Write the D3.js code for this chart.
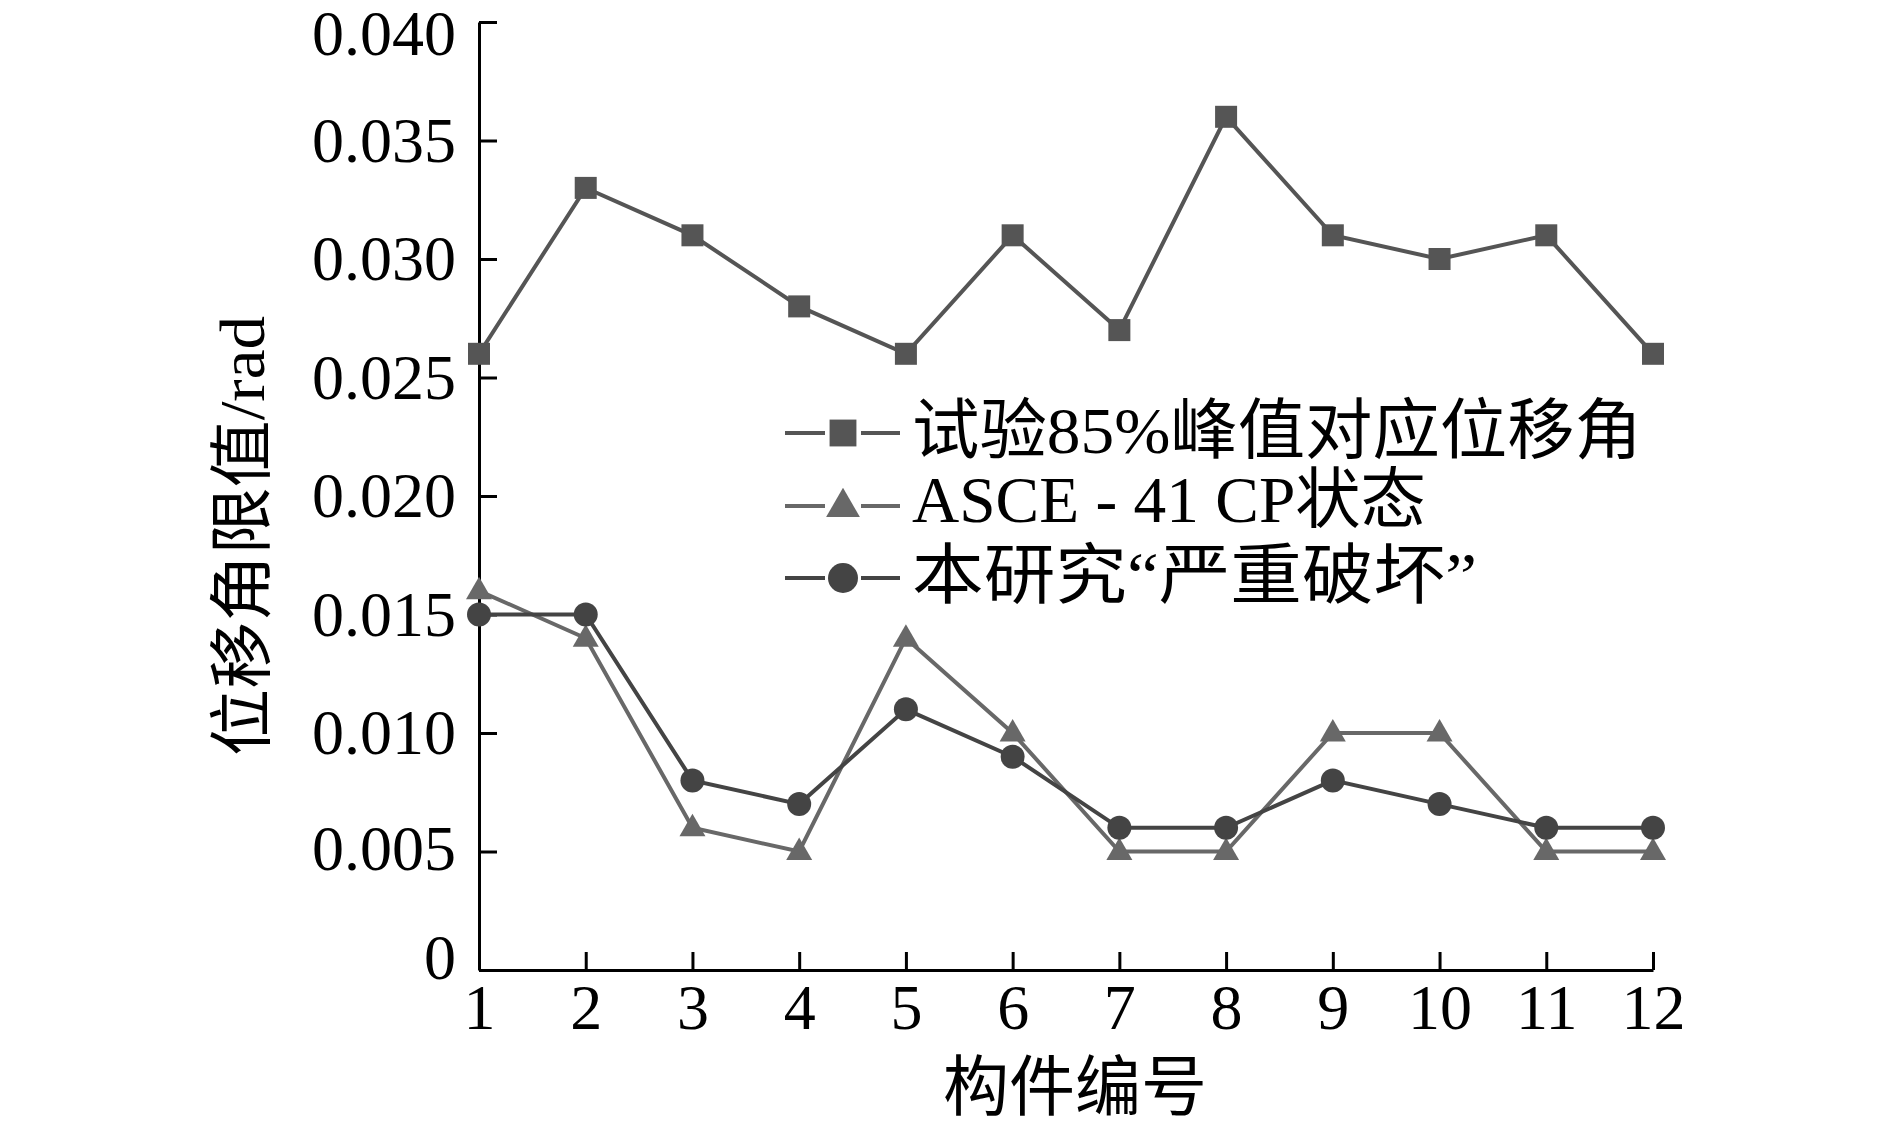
<!DOCTYPE html>
<html><head><meta charset="utf-8">
<script src="https://cdn.jsdelivr.net/npm/d3@7"></script>
<style>body{margin:0;background:#fff}svg{display:block}</style>
</head><body>
<script>
const categories = [1,2,3,4,5,6,7,8,9,10,11,12];
const testPeak85 = [0.026,0.033,0.031,0.028,0.026,0.031,0.027,0.036,0.031,0.030,0.031,0.026];
const asce41CP  = [0.016,0.014,0.006,0.005,0.014,0.010,0.005,0.005,0.010,0.010,0.005,0.005];
const thisStudy = [0.015,0.015,0.008,0.007,0.011,0.009,0.006,0.006,0.008,0.007,0.006,0.006];
const yTicks = [0,0.005,0.010,0.015,0.020,0.025,0.030,0.035,0.040];
const yTickLabels = ["0","0.005","0.010","0.015","0.020","0.025","0.030","0.035","0.040"];
const seriesNames = ["试验85%峰值对应位移角","ASCE - 41 CP状态","本研究“严重破坏”"];
const xTitle = "构件编号", yTitle = "位移角限值/rad";

const W=1890,H=1130;
const svg=d3.select("body").append("svg").attr("width",W).attr("height",H);
const x=d3.scaleLinear().domain([1,12]).range([479,1653]);
const y=d3.scaleLinear().domain([0,0.04]).range([970,22]);
const numFont="'Liberation Serif','Times New Roman',serif";
const cjkFont="'Liberation Serif','Noto Sans CJK SC',serif";

// axes
const yAxis=d3.axisLeft(y).tickValues(yTicks).tickSizeInner(-18).tickSizeOuter(0).tickFormat((d,i)=>yTickLabels[i]).tickPadding(23);
const gy=svg.append("g").attr("transform","translate(479,0)").call(yAxis);
gy.select(".domain").attr("stroke","#000").attr("stroke-width",3);
gy.selectAll(".tick line").attr("stroke","#000").attr("stroke-width",3);
gy.selectAll(".tick text").attr("font-family",numFont).attr("font-size",64).attr("fill","#000")
  .attr("dy","0.34em")
  .attr("y",(d,i)=> i===0 ? -13 : (i===1 ? -4 : (i===yTicks.length-1 ? 11 : -1)));

const xAxis=d3.axisBottom(x).tickValues(categories).tickSizeInner(-18).tickSizeOuter(0).tickFormat(d3.format("d")).tickPadding(14);
const gx=svg.append("g").attr("transform","translate(0,970)").call(xAxis);
gx.select(".domain").attr("stroke","#000").attr("stroke-width",3);
gx.selectAll(".tick line").attr("stroke","#000").attr("stroke-width",3);
gx.selectAll(".tick text").attr("font-family",numFont).attr("font-size",64).attr("fill","#000");

// titles
svg.append("text").attr("x",1075).attr("y",1110).attr("text-anchor","middle")
  .attr("font-family",cjkFont).attr("font-size",66).attr("fill","#000").text(xTitle);
svg.append("text").attr("transform","translate(264,536) rotate(-90)").attr("text-anchor","middle")
  .attr("font-family",cjkFont).attr("font-size",64).attr("fill","#000")
  .attr("textLength",440).attr("lengthAdjust","spacingAndGlyphs").text(yTitle);

const series=[
  {name:seriesNames[0],vals:testPeak85,color:"#555555",sym:"square"},
  {name:seriesNames[1],vals:asce41CP,color:"#686868",sym:"triangle"},
  {name:seriesNames[2],vals:thisStudy,color:"#444444",sym:"circle"}
];
const line=d3.line().x((d,i)=>x(categories[i])).y(d=>y(d));
function drawSym(g,sym,color,cx,cy,k){
  if(sym==="square") g.append("rect").attr("x",cx-11*k).attr("y",cy-11*k).attr("width",22*k).attr("height",22*k).attr("fill",color);
  else if(sym==="circle") g.append("circle").attr("cx",cx).attr("cy",cy).attr("r",12*k).attr("fill",color);
  else g.append("path").attr("d",`M${cx},${cy-14*k}L${cx+13*k},${cy+8.5*k}L${cx-13*k},${cy+8.5*k}Z`).attr("fill",color);
}
series.forEach(s=>{
  svg.append("path").datum(s.vals).attr("d",line).attr("fill","none").attr("stroke",s.color).attr("stroke-width",4);
  const g=svg.append("g");
  s.vals.forEach((v,i)=>drawSym(g,s.sym,s.color,x(categories[i]),y(v),1));
});

// legend
const legY=[433,506,578];
const legBase=[453,522,598];
const legW=[730,514,565];
const legK=[1.22,1.3,1.25];
series.forEach((s,i)=>{
  const g=svg.append("g");
  g.append("line").attr("x1",785).attr("x2",825).attr("y1",legY[i]).attr("y2",legY[i]).attr("stroke",s.color).attr("stroke-width",4);
  g.append("line").attr("x1",861).attr("x2",900).attr("y1",legY[i]).attr("y2",legY[i]).attr("stroke",s.color).attr("stroke-width",4);
  drawSym(g,s.sym,s.color,843,legY[i],legK[i]);
  g.append("text").attr("x",912).attr("y",legBase[i])
   .attr("font-family",cjkFont).attr("font-size",66).attr("fill","#000")
   .attr("textLength",legW[i]).attr("lengthAdjust","spacingAndGlyphs").text(s.name);
});
</script>
</body></html>
